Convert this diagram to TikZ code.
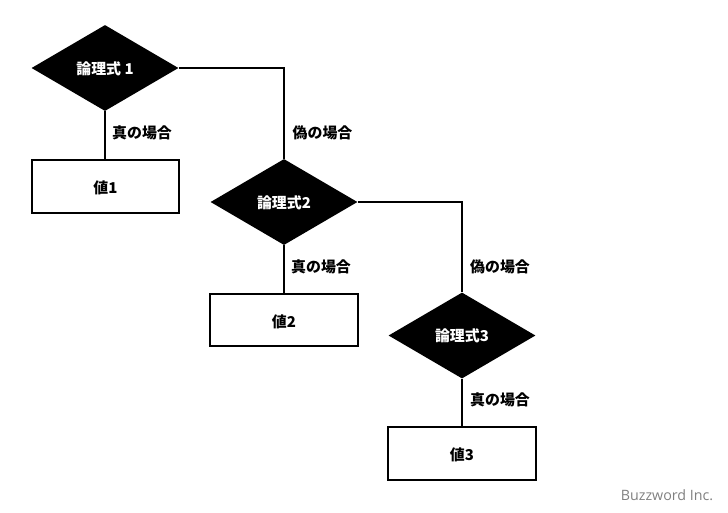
\documentclass[tikz,border=0pt]{standalone}
\usepackage{fontspec}
\setmainfont{Noto Sans CJK JP}
\newfontfamily\brand{Open Sans}
\usetikzlibrary{shapes.geometric}
\tikzset{
  txt/.style={font=\fontsize{11.2pt}{13pt}\selectfont\bfseries},
  cond/.style={diamond,fill=black,aspect=1.71,inner sep=0pt,minimum width=110.25pt,minimum height=64.5pt,text=white,text height=11pt,text depth=2pt,txt},
  valbox/.style={rectangle,draw=black,line width=1.4pt,fill=white,minimum width=110.5pt,minimum height=39.5pt,inner sep=0pt,text height=12.6pt,text depth=2pt,txt},
  lab/.style={inner sep=0pt,txt},
  conn/.style={draw=black,line width=1.4pt}
}
\begin{document}
\begin{tikzpicture}[x=0.75pt,y=-0.75pt]
\useasboundingbox (0,0) rectangle (728,512);
\node[cond] (d1) at (105,68) {論理式 1};
\node[valbox] (v1) at (105.5,186.5) {値1};
\node[cond] (d2) at (284,202) {論理式2};
\node[valbox] (v2) at (284,320) {値2};
\node[cond] (d3) at (462,335.5) {論理式3};
\node[valbox] (v3) at (462,453.5) {値3};
\coordinate (c1) at (284,68);
\coordinate (c2) at (462,202);
\draw[conn] (d1.south) -- (d1.south |- v1.north);
\draw[conn] (d1.east) -- (c1) -- (d2.north);
\draw[conn] (d2.south) -- (v2.north);
\draw[conn] (d2.east) -- (c2) -- (d3.north);
\draw[conn] (d3.south) -- (v3.north);
\node[lab] (l1) at (142,133) {真の場合};
\node[lab] (l2) at (322.5,133) {偽の場合};
\node[lab] (l3) at (321,267) {真の場合};
\node[lab] (l4) at (500,267) {偽の場合};
\node[lab] (l5) at (500,400) {真の場合};
\node[inner sep=0pt,text=black!50,font=\brand\fontsize{10.7pt}{12pt}\selectfont] (b) at (667,495) {Buzzword Inc.};
\end{tikzpicture}
\end{document}
